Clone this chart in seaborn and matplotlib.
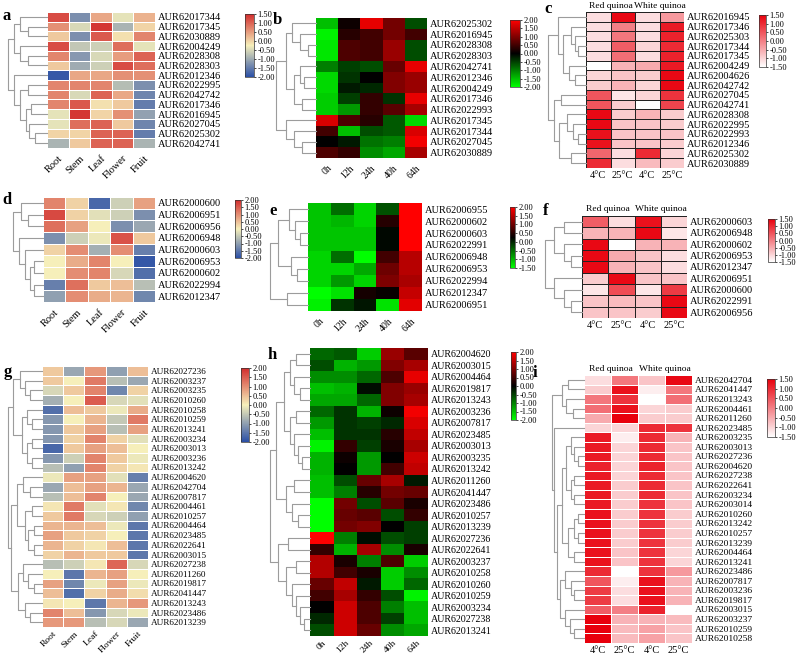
import numpy as np
import pandas as pd
import matplotlib
matplotlib.use("Agg")
import matplotlib.pyplot as plt
import seaborn as sns
from matplotlib.colors import LinearSegmentedColormap

plt.rcParams['font.family'] = ['Liberation Serif', 'DejaVu Serif']

# ---------------- data ----------------
tissues = ['Root', 'Stem', 'Leaf', 'Flower', 'Fruit']
hours = ['0h', '12h', '24h', '40h', '64h']
temps = ['4°C', '25°C', '4°C', '25°C']

a_rows = ['AUR62017344', 'AUR62017345', 'AUR62030889', 'AUR62004249', 'AUR62028308',
          'AUR62028303', 'AUR62012346', 'AUR62022995', 'AUR62042742', 'AUR62017346',
          'AUR62016945', 'AUR62027045', 'AUR62025302', 'AUR62042741']
a_vals = [[1.2, -1.3, 0.4, -0.4, 0.3],
          [0.6, -0.5, 1.4, -0.9, 0.0],
          [0.1, -1.3, 1.1, -0.1, 0.7],
          [1.2, -0.7, -0.6, 0.9, -0.4],
          [0.7, -1.2, -0.5, 0.5, 1.0],
          [0.1, -1.0, -0.6, 1.2, 0.9],
          [-1.9, 0.4, 0.4, 0.6, 0.6],
          [0.7, 0.7, 0.7, -0.8, -1.3],
          [0.7, -0.5, 1.0, 0.4, -1.4],
          [0.7, 1.1, -0.1, 0.1, -1.5],
          [-0.4, 1.4, 0.0, 0.6, -1.1],
          [-0.4, 0.9, 1.0, 0.1, -1.4],
          [0.0, 0.0, 1.0, 1.0, -1.5],
          [-0.9, 0.1, 1.0, 1.0, -0.9]]
a_tree = (1.0, (0.85, (0.7, 0, (0.5, 1, 2)), (0.7, 3, (0.5, 4, 5))),
          (0.85, 6, (0.7, (0.5, 7, 8), (0.55, (0.4, 9, 10), (0.45, 11, (0.3, 12, 13))))))

b_rows = ['AUR62025302', 'AUR62016945', 'AUR62028308', 'AUR62028303', 'AUR62042741',
          'AUR62012346', 'AUR62004249', 'AUR62017346', 'AUR62022993', 'AUR62017345',
          'AUR62017344', 'AUR62027045', 'AUR62030889']
b_vals = [[-1.5, 0.1, 1.8, 0.9, -0.6],
          [-1.9, 0.3, 0.5, 0.9, 0.5],
          [-1.8, 0.6, 0.5, 1.2, -0.6],
          [-1.8, 0.6, 0.5, 1.2, -0.6],
          [-1.0, -0.5, -0.6, 0.8, 1.8],
          [-1.7, -0.4, 0.0, 1.0, 1.2],
          [-1.7, -0.2, -0.3, 1.0, 1.2],
          [-1.6, -0.5, 0.4, -0.4, 1.8],
          [-1.6, -1.2, 0.4, 0.7, 1.3],
          [1.7, 0.6, 0.3, -0.7, -1.7],
          [0.5, -1.5, -0.6, -0.7, 1.7],
          [0.0, -0.2, -0.9, -1.0, 1.9],
          [0.6, 0.4, -1.1, -1.3, 1.3]]
b_tree = (1.0, (0.75, (0.6, 0, (0.4, 1, (0.2, 2, 3))),
                (0.55, (0.4, 4, (0.3, 5, 6)), (0.35, 7, 8))),
          (0.75, 9, (0.55, 10, (0.35, 11, 12))))

c_rows = ['AUR62016945', 'AUR62017346', 'AUR62025303', 'AUR62017344', 'AUR62017345',
          'AUR62004249', 'AUR62004626', 'AUR62042742', 'AUR62027045', 'AUR62042741',
          'AUR62028308', 'AUR62022995', 'AUR62022993', 'AUR62012346', 'AUR62025302',
          'AUR62030889']
c_vals = [[-1.1, 1.4, -1.1, -0.3],
          [-1.1, 0.0, -1.1, 1.2],
          [-1.1, 0.1, -1.1, 1.1],
          [-1.1, 0.4, -1.0, 1.0],
          [-1.1, 0.2, -1.1, 1.1],
          [-1.5, -0.6, -0.5, 1.2],
          [-1.0, -0.8, -0.9, 1.4],
          [-0.9, -0.6, -1.0, 1.4],
          [0.5, -1.2, -1.0, 0.9],
          [0.5, -0.9, -1.5, 0.7],
          [1.4, -0.9, -0.6, -0.9],
          [1.4, -0.8, -0.8, -0.9],
          [1.3, -0.8, -0.8, -0.8],
          [1.3, -0.8, -0.8, -0.9],
          [0.3, -1.1, 1.0, -1.0],
          [1.0, -1.1, -0.7, -0.9]]
c_tree = (1.0, (0.75, 0, (0.6, (0.4, 1, (0.3, 2, (0.2, 3, 4))), (0.45, 5, (0.3, 6, 7)))),
          (0.85, (0.65, 8, 9), (0.7, (0.5, 10, (0.35, 11, (0.2, 12, 13))), (0.4, 14, 15))))

d_rows = ['AUR62000600', 'AUR62006951', 'AUR62006956', 'AUR62006948', 'AUR62000603',
          'AUR62006953', 'AUR62000602', 'AUR62022994', 'AUR62012347']
d_vals = [[1.1, 0.3, -1.7, -0.4, 0.8],
          [1.7, 0.3, -0.2, -0.4, -1.2],
          [1.3, 0.8, 0.0, -1.2, -0.9],
          [-1.2, -0.4, -0.1, 1.6, 0.4],
          [0.3, 1.0, -0.8, 1.0, -1.4],
          [0.0, 0.7, 1.1, 0.0, -1.9],
          [0.0, 1.0, 1.1, -0.3, -1.6],
          [-1.4, 1.3, 0.4, 0.5, -0.6],
          [-1.0, 1.0, 0.7, 0.6, -1.3]]
d_tree = (1.0, (0.75, 0, (0.5, 1, 2)),
          (0.8, 3, (0.6, 4, (0.45, (0.3, 5, 6), (0.3, 7, 8)))))

e_rows = ['AUR62006955', 'AUR62000602', 'AUR62000603', 'AUR62022991', 'AUR62006948',
          'AUR62006953', 'AUR62022994', 'AUR62012347', 'AUR62006951']
e_vals = [[-1.1, -0.5, -1.2, -0.3, 2.0],
          [-1.1, -1.0, -1.2, 0.5, 2.0],
          [-1.1, -1.1, -1.1, 0.2, 2.0],
          [-1.1, -1.1, -1.1, 0.2, 2.0],
          [-1.2, -0.5, -1.5, 0.7, 1.5],
          [-1.2, -1.2, -0.9, 1.0, 1.5],
          [-1.2, -0.8, -1.2, 1.1, 1.4],
          [-1.5, -1.3, 0.4, 0.3, 1.6],
          [-1.4, -0.1, 0.1, -1.3, 1.8]]
e_tree = (1.0, (0.8, (0.5, 0, (0.35, 1, (0.2, 2, 3))), (0.45, 4, (0.3, 5, 6))),
          (0.55, 7, 8))

f_rows = ['AUR62000603', 'AUR62006948', 'AUR62000602', 'AUR62006953', 'AUR62012347',
          'AUR62006951', 'AUR62000600', 'AUR62022991', 'AUR62006956']
f_vals = [[0.4, -1.1, 1.3, -1.0],
          [-0.6, -0.6, 1.4, -1.2],
          [1.4, -1.5, -0.6, -0.6],
          [1.4, -0.5, -0.8, -1.1],
          [1.4, -0.6, -0.8, -1.1],
          [-0.9, 1.4, -0.8, -0.8],
          [-1.2, 0.6, -1.2, 0.8],
          [-0.8, -0.7, -0.8, 1.4],
          [-0.8, -0.8, -0.9, 1.4]]
f_tree = (1.0, (0.75, (0.5, 0, 1), (0.5, 2, (0.3, 3, 4))),
          (0.75, 5, (0.5, 6, (0.3, 7, 8))))

g_rows = ['AUR62027236', 'AUR62003237', 'AUR62003235', 'AUR62010260', 'AUR62010258',
          'AUR62010259', 'AUR62013241', 'AUR62003234', 'AUR62003013', 'AUR62003236',
          'AUR62013242', 'AUR62004620', 'AUR62042704', 'AUR62007817', 'AUR62004461',
          'AUR62010257', 'AUR62004464', 'AUR62023485', 'AUR62022641', 'AUR62003015',
          'AUR62027238', 'AUR62011260', 'AUR62019817', 'AUR62041447', 'AUR62013243',
          'AUR62023486', 'AUR62013239']
g_vals = [[0.4, -0.9, 0.9, -1.0, 0.5],
          [0.4, 0.0, 1.2, -0.6, -0.9],
          [-0.3, 0.4, 1.1, -1.3, 0.3],
          [-0.8, 0.0, 1.5, -0.3, -0.2],
          [-1.6, 0.5, 0.4, -0.1, 0.7],
          [-1.1, 0.0, 0.6, -0.5, 1.2],
          [-1.1, 0.4, 0.8, -0.6, 0.8],
          [-1.1, 0.3, 1.1, 0.3, -0.2],
          [-1.7, 0.4, 0.8, 0.5, 0.0],
          [-1.1, -0.4, 1.1, 0.4, -0.1],
          [-0.6, -1.0, 1.1, 0.3, 0.1],
          [-0.1, 0.8, 0.8, -0.2, -1.4],
          [-0.9, 0.5, 0.8, 0.6, -0.9],
          [-0.6, 0.5, 1.1, 0.0, -0.9],
          [0.1, 1.2, -0.2, 0.1, -1.3],
          [0.4, 1.2, -0.3, -0.4, -1.0],
          [0.6, 0.6, 0.5, -0.1, -1.5],
          [0.8, 0.4, 0.3, 0.0, -1.5],
          [0.6, 0.3, 0.1, 0.5, -1.5],
          [0.3, 0.6, 0.4, 0.4, -1.5],
          [-0.6, -0.4, 0.1, 1.4, -0.3],
          [0.0, -1.5, 0.6, 0.8, 0.0],
          [0.8, -1.3, -0.1, 0.8, -0.1],
          [0.5, -1.6, 0.3, 0.7, 0.2],
          [0.1, 0.0, -1.5, 0.6, 0.9],
          [1.1, 0.5, -1.1, -0.3, -0.1],
          [0.9, 0.9, -0.6, -0.3, -0.9]]
g_tree = (1.0,
          (0.85, (0.65, 0, (0.5, 1, (0.35, 2, 3))),
           (0.6, (0.45, 4, (0.3, 5, 6)), (0.45, (0.3, 7, 8), (0.3, 9, 10)))),
          (0.9, (0.75, (0.55, 11, (0.35, 12, 13)),
                 (0.5, (0.3, 14, 15), (0.4, (0.25, 16, 17), (0.25, 18, 19)))),
           (0.7, (0.55, 20, (0.4, 21, (0.25, 22, 23))), (0.5, 24, (0.35, 25, 26)))))

h_rows = ['AUR62004620', 'AUR62003015', 'AUR62004464', 'AUR62019817', 'AUR62013243',
          'AUR62003236', 'AUR62007817', 'AUR62023485', 'AUR62003013', 'AUR62003235',
          'AUR62013242', 'AUR62011260', 'AUR62041447', 'AUR62023486', 'AUR62010257',
          'AUR62013239', 'AUR62027236', 'AUR62022641', 'AUR62003237', 'AUR62010258',
          'AUR62010260', 'AUR62010259', 'AUR62003234', 'AUR62027238', 'AUR62013241']
h_vals = [[-0.8, -0.7, -1.6, 1.2, 0.7],
          [-0.6, -1.4, -1.2, 1.0, 1.3],
          [-1.1, -1.1, -0.8, 0.6, 1.8],
          [-1.5, -1.4, -0.1, 1.0, 1.2],
          [-1.3, -1.3, -0.8, 1.0, 1.3],
          [-0.8, -0.4, -1.4, 0.1, 1.9],
          [-1.2, -0.4, -0.5, -0.3, 1.7],
          [-1.5, -0.4, -0.4, 0.3, 1.5],
          [-1.9, 0.4, -0.5, 0.2, 1.3],
          [-1.4, 0.1, -1.2, 0.0, 1.6],
          [-1.4, 0.0, -1.2, 0.5, 1.5],
          [-1.5, -0.6, 0.8, 1.3, -0.2],
          [-1.5, -1.0, 0.3, 0.9, 0.8],
          [-2.0, 0.9, -0.6, 0.7, 0.2],
          [-2.0, 0.8, 0.7, -0.6, 0.4],
          [-2.0, 0.9, 1.0, 0.0, -0.5],
          [2.0, -1.0, -0.1, -0.6, -0.5],
          [0.4, -1.4, 1.3, -1.1, 0.2],
          [1.4, 0.2, -1.0, 0.6, -1.6],
          [1.4, 0.5, 0.2, -1.6, -1.1],
          [0.8, 1.5, -0.2, -1.6, -0.8],
          [0.5, 1.3, 0.4, -0.6, -1.9],
          [0.0, 1.6, 0.6, -1.0, -1.5],
          [-0.3, 1.6, 0.6, -0.5, -1.5],
          [-0.6, 1.6, 0.8, -1.1, -1.3]]
h_tree = (1.0,
          (0.85, (0.65, (0.5, (0.35, 0, 1), (0.4, 2, (0.25, 3, 4))),
                  (0.5, (0.35, 5, 6), (0.4, 7, (0.3, 8, (0.2, 9, 10))))),
           (0.6, (0.4, 11, 12), (0.45, 13, (0.3, 14, 15)))),
          (0.8, (0.55, 16, 17),
           (0.6, (0.35, 18, 19), (0.45, 20, (0.35, 21, (0.25, 22, (0.15, 23, 24)))))))

i_rows = ['AUR62042704', 'AUR62041447', 'AUR62013243', 'AUR62004461', 'AUR62011260',
          'AUR62023485', 'AUR62003235', 'AUR62003013', 'AUR62027236', 'AUR62004620',
          'AUR62027238', 'AUR62022641', 'AUR62003234', 'AUR62003014', 'AUR62010260',
          'AUR62013242', 'AUR62010257', 'AUR62013239', 'AUR62004464', 'AUR62013241',
          'AUR62023486', 'AUR62007817', 'AUR62003236', 'AUR62019817', 'AUR62003015',
          'AUR62003237', 'AUR62010259', 'AUR62010258']
i_vals = [[-1.1, 0.1, -0.8, 1.4],
          [-0.9, 1.3, -1.3, 0.1],
          [0.1, 0.9, -1.5, 0.2],
          [0.2, 1.3, -1.0, -0.9],
          [-0.5, 1.5, -0.9, -0.9],
          [-1.0, -1.0, 1.0, 0.9],
          [1.2, -1.3, 1.0, -0.6],
          [1.2, -1.0, 1.0, -0.8],
          [1.2, -1.0, 1.0, -0.8],
          [1.1, -1.0, 1.1, -0.8],
          [1.2, -1.0, 1.0, -0.8],
          [1.2, -0.9, 1.0, -0.8],
          [1.2, -0.9, 1.0, -0.8],
          [1.2, -0.9, 0.9, -0.8],
          [1.3, -0.9, 0.9, -0.9],
          [1.3, -0.9, 0.9, -0.9],
          [1.3, -0.9, 0.9, -0.9],
          [1.3, -0.9, 0.9, -0.9],
          [1.3, -0.8, 0.9, -1.0],
          [1.3, -0.8, 0.9, -1.0],
          [1.0, -1.5, 0.9, -0.3],
          [0.5, -1.3, 1.3, -0.6],
          [0.8, -1.1, 1.3, -0.6],
          [0.8, -1.1, 1.3, -0.6],
          [0.4, 0.0, 1.1, -1.5],
          [1.5, -0.6, -0.6, -0.7],
          [1.5, -0.7, -0.4, -0.8],
          [1.5, -0.7, -0.4, -0.8]]
i_tree = (1.0,
          (0.7, (0.5, 0, 1), (0.55, 2, (0.35, 3, 4))),
          (0.95, 5, (0.85, (0.7, (0.55, (0.4, 6, (0.3, 7, (0.2, 8, 9))),
                                   (0.4, (0.3, 10, 11), (0.3, 12, 13))),
                             (0.5, (0.3, (0.2, 14, 15), (0.2, 16, 17)), (0.3, 18, 19))),
                     (0.75, (0.6, 20, (0.4, 21, (0.3, 22, 23))),
                      (0.6, 24, (0.45, 25, (0.3, 26, 27)))))))

# ---------------- styles ----------------
cm_ryb = LinearSegmentedColormap.from_list('ryb', ['#2a4fa6', '#f6f0bb', '#d22c2c'])
cm_gkr = LinearSegmentedColormap.from_list('gkr', ['#00ff00', '#000000', '#ff0000'])
cm_wr = LinearSegmentedColormap.from_list('wr', ['#ffffff', '#e8000c'])

W, H = 800, 658
fig = plt.figure(figsize=(8, 6.58), dpi=100)


def rect(x0, y0, x1, y1):
    return [x0 / W, 1 - y1 / H, (x1 - x0) / W, (y1 - y0) / H]


def draw_tree(ax, node):
    if isinstance(node, int):
        return node + 0.5, 0.0
    h, left, right = node
    yl, hl = draw_tree(ax, left)
    yr, hr = draw_tree(ax, right)
    ax.plot([hl, h, h, hr], [yl, yl, yr, yr], color='#9c9c9c', lw=0.8,
            clip_on=False)
    return (yl + yr) / 2, h


def panel(letter, lpos, rows, cols, vals, tree, cmap, vmin, vmax, ticks,
          hm, dg, cb, lw, lc, kind, fs, xfs=7.5, xpad=4):
    ax = fig.add_axes(rect(*hm))
    cax = fig.add_axes(rect(*cb))
    df = pd.DataFrame(vals, index=rows, columns=cols)
    sns.heatmap(df, ax=ax, cmap=cmap, vmin=vmin, vmax=vmax, cbar_ax=cax,
                linewidths=lw, linecolor=lc, xticklabels=True, yticklabels=True)
    ax.yaxis.tick_right()
    ax.set_yticklabels(rows, rotation=0, fontsize=fs)
    ax.tick_params(axis='y', length=0, pad=2)
    ax.set_xlabel('')
    ax.set_ylabel('')
    if kind == 'temp':
        ax.set_xticklabels(cols, rotation=0, fontsize=7.5)
        ax.tick_params(axis='x', length=0, pad=2)
        ax.text(1.0, -0.25, 'Red quinoa', ha='center', va='bottom', fontsize=6.8)
        ax.text(3.0, -0.25, 'White quinoa', ha='center', va='bottom', fontsize=6.8)
    else:
        ax.set_xticklabels(cols, rotation=45, ha='right', rotation_mode='anchor',
                           fontsize=xfs)
        ax.tick_params(axis='x', length=0, pad=xpad)
    cbar = ax.collections[0].colorbar
    cbar.set_ticks(ticks)
    cbar.set_ticklabels(['%.2f' % t for t in ticks])
    cbar.outline.set_linewidth(0.5)
    cbar.outline.set_edgecolor('#333333')
    cax.tick_params(labelsize=6, length=1.5, width=0.5, pad=1)

    dax = fig.add_axes(rect(*dg))
    draw_tree(dax, tree)
    dax.set_xlim(1.0, 0.0)
    dax.set_ylim(len(rows), 0)
    dax.axis('off')

    fig.text(lpos[0] / W, 1 - lpos[1] / H, letter, fontsize=12, fontweight='bold',
             ha='center', va='center')


t15 = [1.5, 1.0, 0.5, 0.0, -0.5, -1.0, -1.5]
t20 = [2.0, 1.5, 1.0, 0.5, 0.0, -0.5, -1.0, -1.5, -2.0]

panel('a', (7, 16), a_rows, tissues, a_vals, a_tree, cm_ryb, -2.0, 1.5,
      [1.5, 1.0, 0.5, 0.0, -0.5, -1.0, -1.5, -2.0],
      (47, 12, 155, 148), (8, 12, 47, 148), (245, 14, 254, 77),
      0.6, 'white', 'tissue', 7.5)
panel('b', (277, 20), b_rows, hours, b_vals, b_tree, cm_gkr, -2.0, 2.0, t20,
      (316, 18, 427, 158), (276, 18, 316, 158), (510, 20, 520, 87),
      0, 'white', 'hour', 7.5, xfs=7)
panel('c', (548, 9), c_rows, temps, c_vals, c_tree, cm_wr, -1.5, 1.5, t15,
      (586, 12, 684, 168), (548, 12, 586, 168), (759, 15, 766, 67),
      0.7, '#222222', 'temp', 7.5)
panel('d', (7, 200), d_rows, tissues, d_vals, d_tree, cm_ryb, -2.0, 2.0, t20,
      (43, 197, 155, 302), (13, 197, 43, 302), (235, 200, 241, 258),
      0.6, 'white', 'tissue', 7.5)
panel('e', (273, 211), e_rows, hours, e_vals, e_tree, cm_gkr, -1.5, 2.0,
      [2.0, 1.5, 1.0, 0.5, 0.0, -0.5, -1.0, -1.5],
      (308, 203, 422, 311), (270, 203, 308, 311), (510, 207, 515, 268),
      0, 'white', 'hour', 7.5, xfs=7)
panel('f', (546, 211), f_rows, temps, f_vals, f_tree, cm_wr, -1.5, 1.5, t15,
      (582, 216, 687, 318), (545, 216, 582, 318), (768, 219, 775, 262),
      0.7, '#222222', 'temp', 7.5)
panel('g', (8, 372), g_rows, tissues, g_vals, g_tree, cm_ryb, -2.0, 2.0, t20,
      (42, 366, 148, 627), (8, 366, 42, 627), (241, 368, 249, 442),
      0.6, 'white', 'tissue', 6.6, xfs=6.8, xpad=2)
panel('h', (272, 355), h_rows, hours, h_vals, h_tree, cm_gkr, -2.0, 2.0, t20,
      (310, 348, 428, 636), (270, 348, 310, 636), (511, 352, 516, 420),
      0, 'white', 'hour', 7.2, xfs=6.8, xpad=2)
panel('i', (535, 373), i_rows, temps, i_vals, i_tree, cm_wr, -1.5, 1.5, t15,
      (584, 375, 692, 643), (552, 375, 584, 643), (767, 379, 775, 437),
      0.6, 'white', 'temp', 6.8)

fig.savefig('out.png', dpi=100, facecolor='white')
